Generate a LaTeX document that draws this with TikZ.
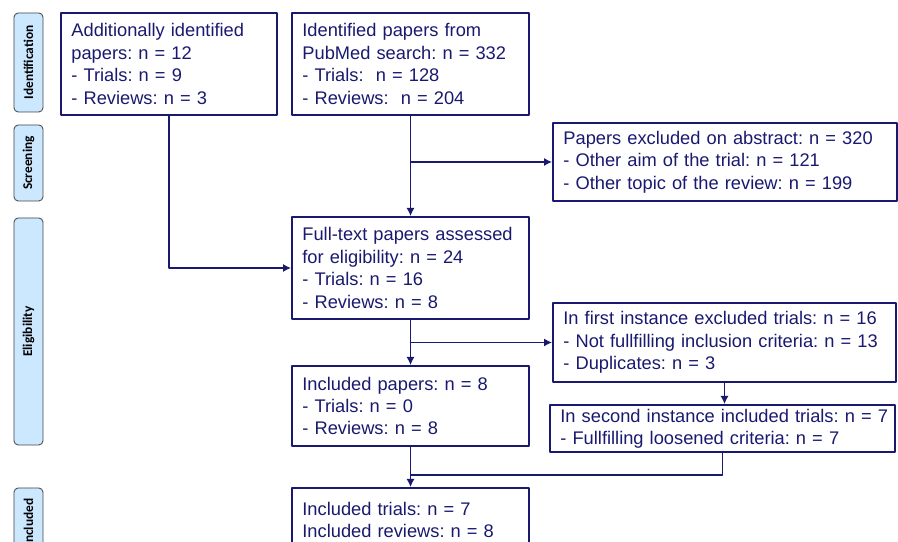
\documentclass[tikz,border=0pt]{standalone}
\usepackage{fontspec}
\setmainfont{Liberation Sans}
\newfontfamily\phasefont{Carlito}
\usetikzlibrary{arrows.meta, calc}
\frenchspacing

\definecolor{navy}{RGB}{25,25,112}
\definecolor{phasefill}{RGB}{204,232,255}
\definecolor{phaseline}{RGB}{70,70,70}

\tikzset{
    box/.style 2 args={draw=navy, line width=1.4pt, text=navy, align=left,
        inner xsep=0.26cm, inner ysep=0pt, text width=#1, minimum height=#2,
        font=\fontsize{13}{15.9}\selectfont},
    phase/.style={draw=phaseline, fill=phasefill, line width=0.6pt, rounded corners=3pt,
        rotate=90, minimum width=#1, minimum height=0.725cm, inner sep=0pt,
        font=\phasefont\bfseries\fontsize{9.5}{11}\selectfont},
    flow/.style={draw=navy, line width=0.9pt, -{Latex[length=5.7pt, width=5.7pt]}},
    link/.style={draw=navy, line width=0.9pt}
}

\begin{document}
\begin{tikzpicture}[line cap=round, line join=round]
        \useasboundingbox (0, 0) rectangle (22.45, 13.55);
        \clip (0, 0) rectangle (22.45, 13.55);
        % draw phase labels
        \node[phase=2.475cm] (identification) at (0.7125, 11.9875) {Identification};
        \node[phase=1.9cm] (screening) at (0.7125, 9.475) {Screening};
        \node[phase=5.675cm] (eligibility) at (0.7125, 5.2625) {Eligibility};
        \node[phase=1.725cm] (included) at (0.7125, 0.4875) {Included};
        % draw identification boxes
        \node[box={4.88cm}{2.55cm}] (additional) at (4.225, 11.95) {Additionally identified\\papers: n = 12\\- Trials: n = 9\\- Reviews: n = 3};
        \node[box={5.405cm}{2.55cm}] (pubmed) at (10.2625, 11.95) {Identified papers from\\PubMed search: n = 332\\- Trials:\ \ n = 128\\- Reviews:\ \ n = 204};
        % draw screening box
        \node[box={8.08cm}{1.95cm}] (abstract) at (18.125, 9.5) {Papers excluded on abstract: n = 320\\- Other aim of the trial: n = 121\\- Other topic of the review: n = 199};
        % draw eligibility boxes
        \node[box={5.405cm}{2.55cm}] (fulltext) at (10.2625, 6.85) {\mbox{Full-text papers assessed}\\for eligibility: n = 24\\- Trials: n = 16\\- Reviews: n = 8};
        \node[box={8.055cm}{1.975cm}] (first) at (18.1125, 4.9875) {In first instance excluded trials: n = 16\\\mbox{- Not fullfilling inclusion criteria: n = 13}\\- Duplicates: n = 3};
        \node[box={8.105cm}{1.175cm}] (second) at (18.0625, 2.8375) {\mbox{In second instance included trials: n = 7}\\- Fullfilling loosened criteria: n = 7};
        \node[box={5.405cm}{2cm}] (papers) at (10.2625, 3.4) {Included papers: n = 8\\- Trials: n = 0\\- Reviews: n = 8};
        % draw included box
        \node[box={5.405cm}{1.6cm}] (trials) at (10.2625, 0.55) {Included trials: n = 7\\Included reviews: n = 8};
        % draw connectors
        \draw[flow] (additional.south) |- (fulltext.west);
        \draw[flow] (pubmed.south) -- (fulltext.north);
        \draw[flow] (pubmed.south |- abstract.west) -- (abstract.west);
        \draw[flow] (fulltext.south) -- (papers.north);
        \draw[flow] (fulltext.south |- first.west) -- (first.west);
        \draw[flow] (first.south) -- (first.south |- second.north);
        \coordinate (merge) at ($(papers.south) + (0, -0.7)$);
        \draw[link] (second.south) |- (merge);
        \draw[flow] (papers.south) -- (trials.north);
    \end{tikzpicture}
\end{document}
